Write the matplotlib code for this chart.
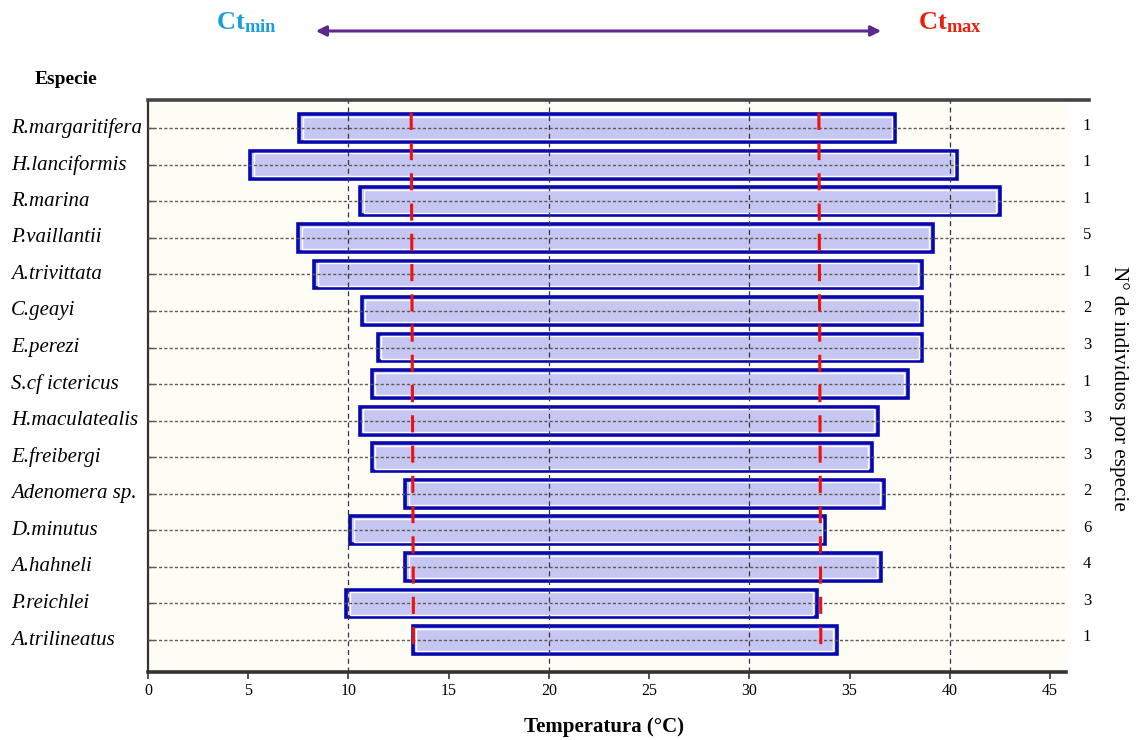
import matplotlib
matplotlib.use("Agg")
import matplotlib.pyplot as plt
from matplotlib.lines import Line2D

plt.rcParams["mathtext.fontset"] = "custom"
plt.rcParams["mathtext.rm"] = "Liberation Serif"
plt.rcParams["mathtext.bf"] = "Liberation Serif:bold"

species = ["R.margaritifera", "H.lanciformis", "R.marina", "P.vaillantii",
           "A.trivittata", "C.geayi", "E.perezi", "S.cf ictericus",
           "H.maculatealis", "E.freibergi", "Adenomera sp.", "D.minutus",
           "A.hahneli", "P.reichlei", "A.trilineatus"]
ct_min_sp = [7.55, 5.1, 10.6, 7.5, 8.3, 10.67, 11.47, 11.17,
             10.57, 11.17, 12.83, 10.1, 12.83, 9.9, 13.2]
ct_max_sp = [37.28, 40.38, 42.5, 39.14, 38.6, 38.62, 38.62, 37.9,
             36.4, 36.1, 36.71, 33.78, 36.56, 33.37, 34.35]
n_ind = [1, 1, 1, 5, 1, 2, 3, 1, 3, 3, 2, 6, 4, 3, 1]
ct_min_mean = [13.13, 13.25]   # top, bottom of the dashed line
ct_max_mean = [33.47, 33.57]
xticks = [0, 5, 10, 15, 20, 25, 30, 35, 40, 45]

serif = "Liberation Serif"
W, H = 1136, 740
fig = plt.figure(figsize=(W / 100, H / 100), dpi=100)
fig.patch.set_facecolor("white")

ax_l, ax_r, ax_t, ax_b = 148, 1066, 100, 672
ax = fig.add_axes([ax_l / W, 1 - ax_b / H, (ax_r - ax_l) / W, (ax_b - ax_t) / H])
ax.set_facecolor("#fdfdf6")

n = len(species)
ypos = list(range(n))
ax.set_xlim(0, 45.8)
ax.set_ylim(n - 1 + 0.875, -0.77)

# bars
widths = [b - a for a, b in zip(ct_min_sp, ct_max_sp)]
ax.barh(ypos, widths, left=ct_min_sp, height=0.76, color="#c6c6f2",
        edgecolor="#0808b0", linewidth=2.6, zorder=2)
# inner white highlight
ax.barh(ypos, [w - 0.35 for w in widths], left=[a + 0.175 for a in ct_min_sp],
        height=0.62, color="none", edgecolor="white", linewidth=1.0, zorder=2.5)

# grid
for y in ypos:
    ax.plot([0, 45.8], [y, y], color="#5a5a50", lw=1.0,
            dashes=(2.2, 1.6), zorder=3)
for x in [10, 20, 30, 40]:
    ax.axvline(x, color="#333344", lw=0.9, dashes=(4, 3), zorder=3)

# Ct lines
ytop, ybot = -0.42, n - 1 + 0.42
ax.plot(ct_min_mean, [ytop, ybot], color="#ee1111", lw=2.2,
        dashes=(5.6, 4.3), zorder=4, solid_capstyle="butt")
ax.plot(ct_max_mean, [ytop, ybot], color="#ee1111", lw=2.2,
        dashes=(5.6, 4.3), zorder=4, solid_capstyle="butt")

# spines & ticks
for s in ["right", "top"]:
    ax.spines[s].set_visible(False)
ax.spines["left"].set_linewidth(1.6)
ax.spines["left"].set_color("#333333")
ax.spines["bottom"].set_linewidth(2.6)
ax.spines["bottom"].set_color("#333333")
ax.set_xticks(xticks)
ax.set_xticklabels([str(t) for t in xticks], fontfamily=serif, fontsize=11.5)
ax.tick_params(axis="x", length=5, width=1.2, color="#333333", pad=3)
ax.set_yticks(ypos)
ax.set_yticklabels([])
ax.tick_params(axis="y", direction="in", length=4, width=1, color="#555555")

# top border extended
fig.add_artist(Line2D([ax_l / W, 1089 / W], [1 - ax_t / H, 1 - ax_t / H],
                      color="#444444", lw=2.6, transform=fig.transFigure))

# species labels
for y, name in zip(ypos, species):
    ax.text(-0.149, y, name, transform=ax.get_yaxis_transform(),
            ha="left", va="center", fontfamily=serif, style="italic",
            fontsize=15)
# counts
for y, c in zip(ypos, n_ind):
    ax.text(1.0185, y - 0.07, str(c), transform=ax.get_yaxis_transform(),
            ha="left", va="center", fontfamily=serif, fontsize=12)

fig.text(35 / W, 1 - 80 / H, "Especie", fontfamily=serif, fontweight="bold",
         fontsize=14, ha="left", va="center")
fig.text(604 / W, 1 - 727 / H, "Temperatura (°C)", fontfamily=serif,
         fontweight="bold", fontsize=15, ha="center", va="center")
fig.text(1119 / W, 1 - 388 / H, "N° de individuos por especie", fontfamily=serif,
         fontsize=15.2, rotation=-90, ha="center", va="center")

fig.text(246 / W, 1 - 22 / H, r"$\mathbf{Ct_{min}}$", color="#1a9fd6",
         fontsize=19, ha="center", va="center")
fig.text(950 / W, 1 - 22 / H, r"$\mathbf{Ct_{max}}$", color="#e8200c",
         fontsize=19, ha="center", va="center")
fig.patches.append(matplotlib.patches.FancyArrowPatch(
    (313 / W, 1 - 31 / H), (884 / W, 1 - 31 / H), transform=fig.transFigure,
    arrowstyle="<|-|>,head_length=6,head_width=3", color="#5b2a8c", lw=2.2))

fig.savefig("out.png", dpi=100)
